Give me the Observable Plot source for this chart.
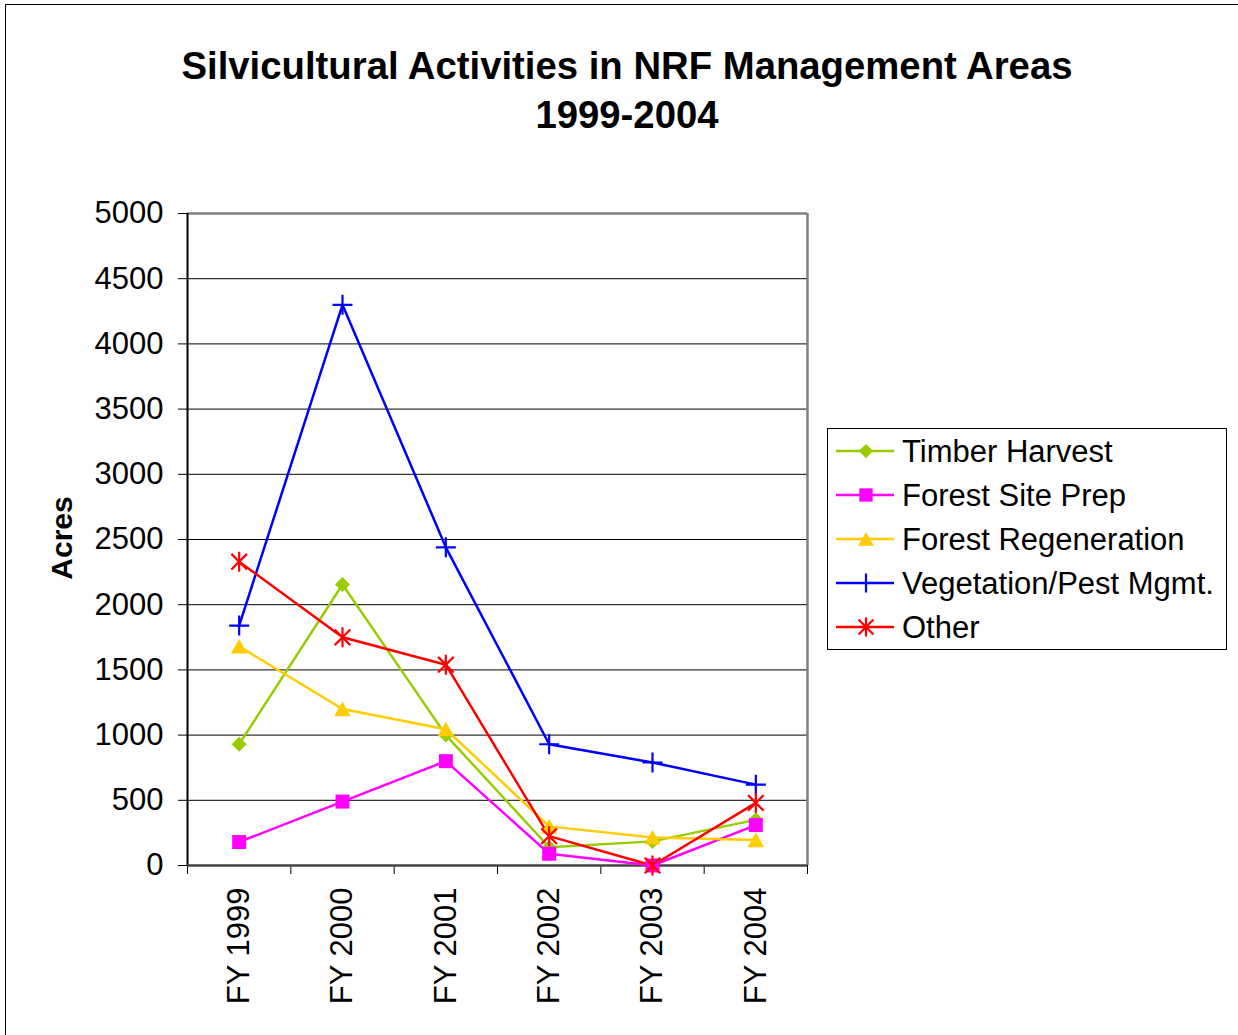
<!DOCTYPE html>
<html>
<head>
<meta charset="utf-8">
<script src="https://cdn.jsdelivr.net/npm/d3@7"></script>
<script src="https://cdn.jsdelivr.net/npm/@observablehq/plot@0.6"></script>
<style>
  html, body { margin: 0; padding: 0; background: #fff; }
  #wrap { position: relative; width: 1238px; height: 1035px; overflow: hidden; font-family: "Liberation Sans", Arial, sans-serif; color: #000; }
  #border { position: absolute; left: 5px; top: 4px; width: 1240px; height: 1040px; border: 1.5px solid #000; box-sizing: border-box; }
  .title { position: absolute; left: 0; width: 1254px; text-align: center; font-weight: bold; font-size: 38.3px; line-height: 38px; white-space: nowrap; }
  #ylabel { position: absolute; left: 62px; top: 538px; transform: translate(-50%, -50%) rotate(-90deg); font-weight: bold; font-size: 30px; line-height: 30px; white-space: nowrap; }
  #legend { position: absolute; left: 827px; top: 428px; width: 400px; height: 222px; border: 1px solid #000; box-sizing: border-box; background: #fff; }
  .lrow { position: absolute; left: 0; height: 44px; display: flex; align-items: center; }
  .lrow svg { position: absolute; left: 8px; top: 0; }
  .lrow span { position: absolute; left: 74px; font-size: 31px; line-height: 31px; white-space: nowrap; top: 6px; }
  #chart { position: absolute; left: 0; top: 0; }
</style>
</head>
<body>
<div id="wrap">
  <div id="border"></div>
  <div class="title" style="top:47px">Silvicultural Activities in NRF Management Areas</div>
  <div class="title" style="top:96px">1999-2004</div>
  <div id="chart"></div>
  <div id="ylabel">Acres</div>
  <div id="legend"></div>
</div>
<script>
// ---- data ----
const years = ["FY 1999", "FY 2000", "FY 2001", "FY 2002", "FY 2003", "FY 2004"];
const timberHarvest = [930, 2155, 1000, 140, 185, 350];
const forestSitePrep = [180, 490, 800, 90, 0, 310];
const forestRegeneration = [1680, 1200, 1045, 300, 215, 195];
const vegetationPest = [1840, 4300, 2440, 930, 790, 620];
const other = [2330, 1750, 1540, 225, 0, 480];
const seriesNames = ["Timber Harvest", "Forest Site Prep", "Forest Regeneration", "Vegetation/Pest Mgmt.", "Other"];
const yTicks = [0, 500, 1000, 1500, 2000, 2500, 3000, 3500, 4000, 4500, 5000];

// ---- symbols ----
const rad = size => Math.sqrt(size / Math.PI);
const symDiamond = { draw(c, s) { const r = rad(s); c.moveTo(0, -r); c.lineTo(r, 0); c.lineTo(0, r); c.lineTo(-r, 0); c.closePath(); } };
const symSquare = { draw(c, s) { const r = rad(s); c.moveTo(-r, -r); c.lineTo(r, -r); c.lineTo(r, r); c.lineTo(-r, r); c.closePath(); } };
const symTriangle = { draw(c, s) { const r = rad(s); c.moveTo(0, -r); c.lineTo(r * 1.1, r * 0.95); c.lineTo(-r * 1.1, r * 0.95); c.closePath(); } };
const symPlus = { draw(c, s) { const r = rad(s); c.moveTo(-r, 0); c.lineTo(r, 0); c.moveTo(0, -r); c.lineTo(0, r); } };
const symStar = { draw(c, s) { const r = rad(s); const d = r * 0.78; c.moveTo(-d, -d); c.lineTo(d, d); c.moveTo(d, -d); c.lineTo(-d, d); c.moveTo(0, -r); c.lineTo(0, r); } };

const series = [
  { name: seriesNames[0], values: timberHarvest, color: "#99CC00", sym: symDiamond, r: 7.5, filled: true },
  { name: seriesNames[1], values: forestSitePrep, color: "#FF00FF", sym: symSquare, r: 7, filled: true },
  { name: seriesNames[2], values: forestRegeneration, color: "#FFCC00", sym: symTriangle, r: 7.5, filled: true },
  { name: seriesNames[3], values: vegetationPest, color: "#0000FF", sym: symPlus, r: 10, filled: false },
  { name: seriesNames[4], values: other, color: "#FF0000", sym: symStar, r: 10, filled: false }
];

const marks = [];
// grid
marks.push(Plot.ruleY(yTicks.filter(d => d > 0 && d < 5000), { stroke: "#000", strokeWidth: 1 }));
// frame
marks.push(Plot.ruleY([5000], { stroke: "#808080", strokeWidth: 2.5 }));
marks.push(Plot.ruleX([5.5], { stroke: "#808080", strokeWidth: 2.5 }));
marks.push(Plot.ruleX([-0.5], { stroke: "#000", strokeWidth: 2 }));
marks.push(Plot.ruleY([0], { stroke: "#444", strokeWidth: 2.5 }));

for (const s of series) {
  const rows = years.map((yr, i) => ({ i, year: yr, value: s.values[i] }));
  marks.push(Plot.line(rows, { x: "i", y: "value", stroke: s.color, strokeWidth: 2.5 }));
}
for (const s of series) {
  const rows = years.map((yr, i) => ({ i, year: yr, value: s.values[i] }));
  marks.push(Plot.dot(rows, s.filled
    ? { x: "i", y: "value", symbol: s.sym, r: s.r, fill: s.color, stroke: "none" }
    : { x: "i", y: "value", symbol: s.sym, r: s.r, fill: "none", stroke: s.color, strokeWidth: 2.2 }));
}
// x category labels (rotated)
marks.push(Plot.text(years, {
  x: (d, i) => i, text: d => d, frameAnchor: "bottom", rotate: -90,
  textAnchor: "end", lineAnchor: "middle", dy: 22, fontSize: 31, fill: "#000"
}));

const chart = Plot.plot({
  width: 1238,
  height: 1035,
  marginLeft: 187,
  marginRight: 431,
  marginTop: 213,
  marginBottom: 170,
  style: { fontFamily: "Liberation Sans, Arial, sans-serif", fontSize: "31px", color: "#000", background: "transparent", overflow: "visible" },
  x: { type: "linear", domain: [-0.5, 5.5], ticks: [-0.5, 0.5, 1.5, 2.5, 3.5, 4.5, 5.5], tickSize: 9, tickFormat: () => "", label: null },
  y: { domain: [0, 5000], ticks: yTicks, tickSize: 9, tickPadding: 15, tickFormat: d => String(d), label: null },
  marks
});
document.getElementById("chart").appendChild(chart);

// ---- legend ----
const legend = document.getElementById("legend");
series.forEach((s, k) => {
  const row = document.createElement("div");
  row.className = "lrow";
  row.style.top = (k * 44 + 1) + "px";
  const p = d3.path();
  const rr = s.r * 0.95;
  s.sym.draw(p, rr * rr * Math.PI);
  const markerAttr = s.filled ? `fill="${s.color}" stroke="none"` : `fill="none" stroke="${s.color}" stroke-width="2.2"`;
  row.innerHTML = `<svg width="60" height="44"><line x1="0" x2="58" y1="21" y2="21" stroke="${s.color}" stroke-width="2.5"/><path transform="translate(30,21)" d="${p.toString()}" ${markerAttr}/></svg><span>${s.name}</span>`;
  legend.appendChild(row);
});
</script>
</body>
</html>
